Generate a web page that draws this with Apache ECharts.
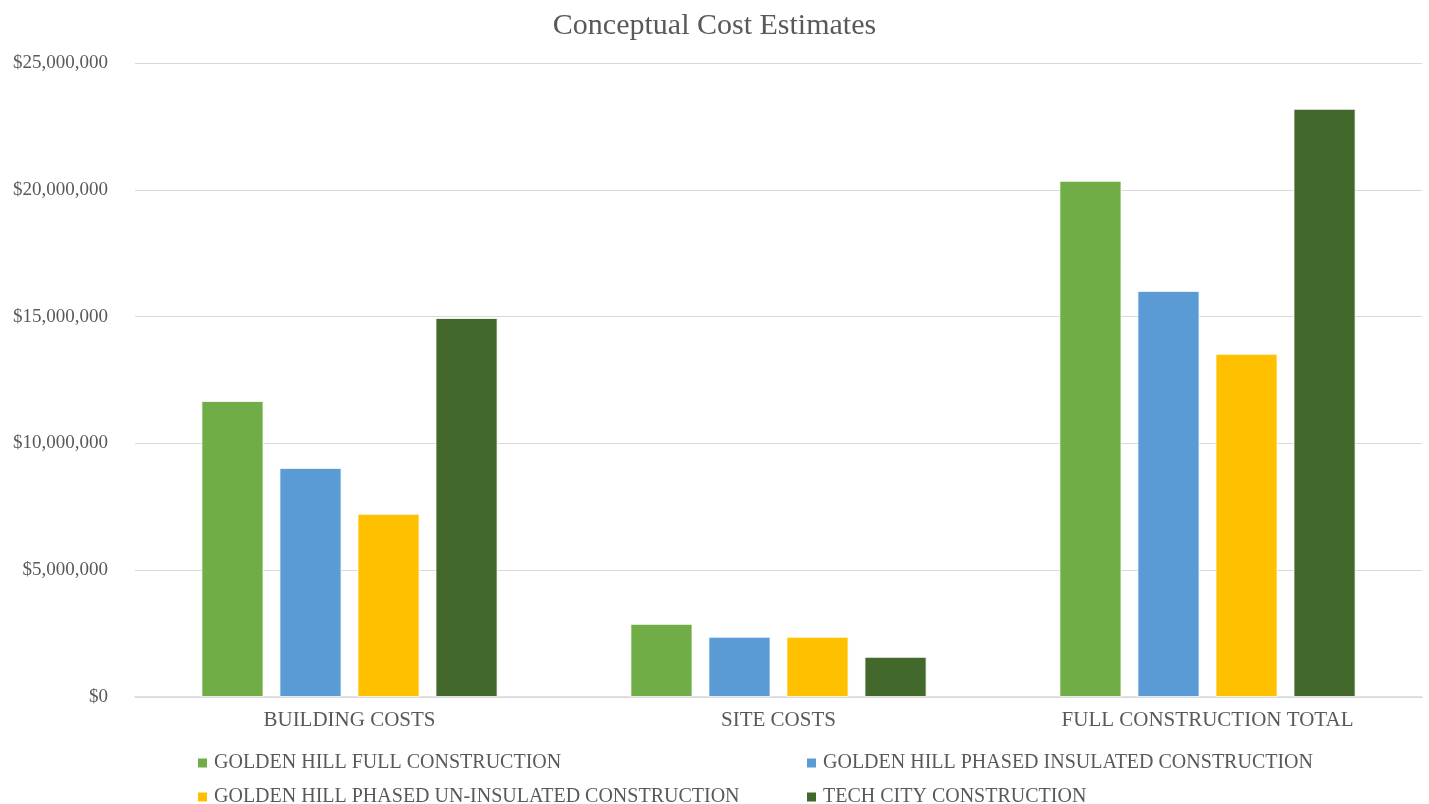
<!DOCTYPE html>
<html><head><meta charset="utf-8">
<script src="https://cdn.jsdelivr.net/npm/echarts@6/dist/echarts.min.js"></script>
<style>html,body{margin:0;padding:0;background:#fff}#c{width:1429px;height:804px}</style>
</head><body><div id="c"></div>
<script>
var categories = ['BUILDING COSTS', 'SITE COSTS', 'FULL CONSTRUCTION TOTAL'];
var seriesNames = ['GOLDEN HILL FULL CONSTRUCTION', 'GOLDEN HILL PHASED INSULATED CONSTRUCTION', 'GOLDEN HILL PHASED UN-INSULATED CONSTRUCTION', 'TECH CITY CONSTRUCTION'];
var fullConstruction = [11670000, 2880000, 20350000];
var phasedInsulated = [9030000, 2370000, 16010000];
var phasedUninsulated = [7220000, 2370000, 13530000];
var techCity = [14940000, 1580000, 23190000];
var colors = ['#70AD47', '#5B9BD5', '#FFC000', '#43682B'];
var allData = [fullConstruction, phasedInsulated, phasedUninsulated, techCity];
var font = '"Liberation Serif", "DejaVu Serif", serif';
var chart = echarts.init(document.getElementById('c'));
function fmt(v){ return '$' + v.toString().replace(/\B(?=(\d{3})+(?!\d))/g, ','); }
function legendCol(names, left){
  return { data: names, left: left, top: 753, height: 60, padding: 0, orient: 'vertical',
    itemWidth: 11, itemHeight: 11, itemGap: 14, icon: 'rect',
    textStyle: { fontFamily: font, fontSize: 20, lineHeight: 20, color: '#595959', padding: [0, 0, 0, 1] } };
}
chart.setOption({
  animation: false,
  color: colors,
  title: { text: 'Conceptual Cost Estimates', left: 'center', top: 6,
    textStyle: { fontFamily: font, fontSize: 30, fontWeight: 'normal', color: '#595959' } },
  legend: [
    legendCol([seriesNames[0], seriesNames[2]], 196),
    legendCol([seriesNames[1], seriesNames[3]], 805)
  ],
  grid: { left: 135, right: 7, top: 63, bottom: 107 },
  xAxis: { type: 'category', data: categories,
    axisLine: { lineStyle: { color: '#d9d9d9', width: 1.5 } }, axisTick: { show: false },
    axisLabel: { fontFamily: font, fontSize: 21, color: '#595959', margin: 13 } },
  yAxis: { type: 'value', min: 0, max: 25000000, interval: 5000000,
    axisLine: { show: false }, axisTick: { show: false },
    splitLine: { lineStyle: { color: '#d9d9d9', width: 1.2 } },
    axisLabel: { fontFamily: font, fontSize: 19, color: '#595959', margin: 27, formatter: fmt } },
  series: allData.map(function(d, i){
    return { name: seriesNames[i], type: 'bar', data: d, barGap: '26%', barCategoryGap: '31%',
      itemStyle: { color: colors[i], borderColor: '#ffffff', borderWidth: 0.8 } };
  })
});
</script></body></html>
